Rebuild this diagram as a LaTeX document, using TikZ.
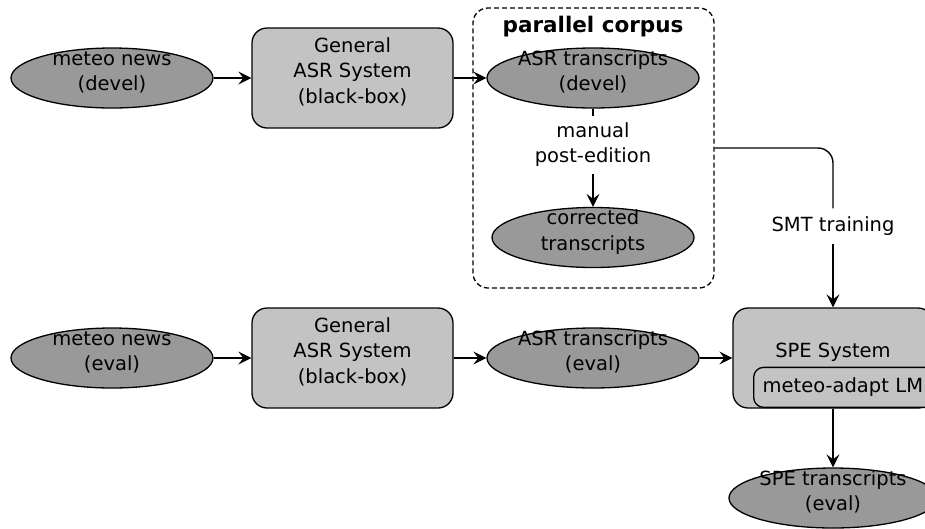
\documentclass[tikz,border=0pt]{standalone}
\usepackage{fontspec}
\setmainfont{DejaVu Sans}
\usetikzlibrary{arrows.meta,shapes.geometric}
\definecolor{ellfill}{HTML}{999999}
\definecolor{boxfill}{HTML}{C3C3C3}
\newcommand\mlines[1]{\begin{tabular}{@{}c@{}}#1\end{tabular}}
\newcommand\smlines[1]{\smash{\mlines{#1}}}
\begin{document}
\begin{tikzpicture}[x=1pt,y=-1pt,
  every node/.style={font=\fontsize{19.5}{25.5}\selectfont},
  ell/.style={ellipse,draw,fill=ellfill,line width=1.3pt,minimum width=202pt,minimum height=60pt,inner sep=0pt},
  sys/.style={rectangle,rounded corners=15pt,draw,fill=boxfill,line width=1.3pt,minimum width=201pt,minimum height=100pt,inner sep=0pt},
  corpus/.style={rectangle,rounded corners=15pt,draw,line width=1.3pt,dash pattern=on 5pt off 3pt,minimum width=241pt,minimum height=280pt,inner sep=0pt},
  lmbox/.style={rectangle,rounded corners=10pt,draw,fill=boxfill,line width=1.3pt,minimum height=40pt,text width=192pt,align=left,inner xsep=9pt,inner ysep=0pt},
  lbl/.style={fill=none,inner xsep=2pt},
  conn/.style={line width=1.4pt,-{Stealth[length=13pt,width=13pt,inset=5pt]}},
  plain/.style={line width=1.4pt},
]
\clip (0,0) rectangle (925,528);
\fill[white] (0,0) rectangle (925,528);

% parallel corpus frame
\node[corpus] (pc) at (593.5,148) {};
\node[font=\fontsize{21.5}{26}\selectfont\bfseries] (pct) at (593,27) {parallel corpus};

% top row
\node[ell] (mnd) at (112,78) {\smlines{meteo news\\(devel)}};
\node[sys] (asr1) at (352.5,78) {\smlines{General\\ASR System\\(black-box)}};
\node[ell] (atd) at (593,78) {\smlines{ASR transcripts\\(devel)}};
\node[lbl,inner ysep=3pt] (pe) at (593,145) {\mlines{manual\\post-edition}};
\node[ell] (ct) at (593,237.5) {\smlines{corrected\\transcripts}};
\node[lbl,inner ysep=8pt] (smt) at (833,226) {SMT training};

% bottom row
\node[ell] (mne) at (112,358) {\smlines{meteo news\\(eval)}};
\node[sys] (asr2) at (352.5,358) {\smlines{General\\ASR System\\(black-box)}};
\node[ell] (ate) at (593,358) {\smlines{ASR transcripts\\(eval)}};
\node[sys,minimum width=200pt] (spe) at (833,358) {};
\node (spet) at (833,352) {SPE System};
\node[lmbox,anchor=south west] (lm) at (753,408) {meteo-adapt LM};
\node[ell,minimum width=200pt] (spt) at (833,498) {\smlines{SPE transcripts\\(eval)}};

% connectors
\draw[conn] (mnd) -- (asr1);
\draw[conn] (asr1) -- (atd);
\draw[plain] (atd) -- (pe);
\draw[conn] (pe) -- (ct);
\draw[plain,rounded corners=15pt] (pc.east) -| (smt.north);
\draw[conn] (smt) -- (spe);
\draw[conn] (mne) -- (asr2);
\draw[conn] (asr2) -- (ate);
\draw[conn] (ate) -- (spe);
\draw[conn] (spe.south) -- (spt);
\end{tikzpicture}
\end{document}
